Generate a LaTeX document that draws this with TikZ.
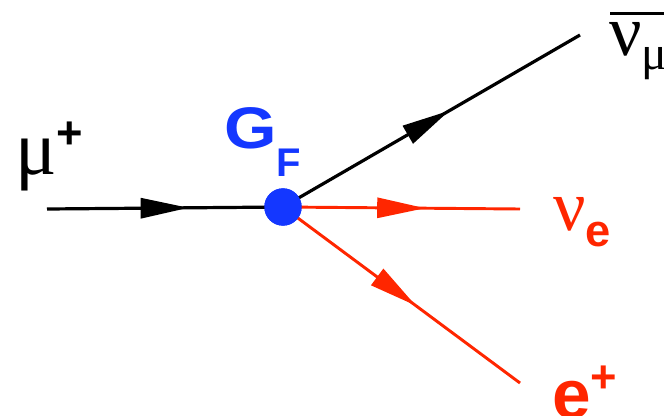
\documentclass[tikz,border=0pt]{standalone}
\usepackage{fontspec}
\setmainfont{Liberation Sans}
\newfontfamily\grk{Liberation Serif}
\usetikzlibrary{arrows.meta,decorations.markings}
\definecolor{fred}{RGB}{255,38,0}
\definecolor{fblue}{RGB}{20,55,255}
\tikzset{
  fermion/.style={line width=2.4pt, postaction={decorate},
    decoration={markings, mark=at position #1 with {\arrow{Triangle[length=36pt,width=15pt]}}}},
  redline/.style={fermion=#1, draw=fred, fill=fred, line width=2.2pt},
  blackline/.style={fermion=#1, draw=black, fill=black},
  vertexdot/.style={circle, fill=fblue, minimum size=28pt, inner sep=0pt},
  bigsym/.style={font=\grk\fontsize{54}{54}\selectfont, inner sep=0pt},
  boldlab/.style={font=\bfseries\fontsize{52}{52}\selectfont, inner sep=0pt},
}
\begin{document}
\begin{tikzpicture}[x=0.75pt, y=-0.75pt]
\useasboundingbox (0,0) rectangle (664,415);
\node[vertexdot] (v) at (283,207) {};
\coordinate (in) at (47,209);
\coordinate (numu) at (580,35);
\coordinate (nue) at (520,209);
\coordinate (pos) at (520,383);
\draw[blackline=0.6] (in) -- (v.center);
\draw[blackline=0.56] (v.center) -- (numu);
\draw[redline=0.6] (v.center) -- (nue);
\draw[redline=0.56] (v.center) -- (pos);
\node[vertexdot] at (v) {};
% labels
\node[bigsym, font=\grk\fontsize{58}{58}\selectfont, anchor=base west] (mulab) at (15,174) {μ\raisebox{19pt}{\normalfont\bfseries\fontsize{34}{34}\selectfont +}};
\node[font=\bfseries\fontsize{44}{44}\selectfont, text=fblue, inner sep=0pt, anchor=base west] (gf) at (224,148) {\scalebox{1.15}[1]{G}\raisebox{-21pt}{\fontsize{30}{30}\selectfont F}};
\node[bigsym, text=fred, anchor=base west] (nuelab) at (553,230) {ν\raisebox{-12pt}{\normalfont\bfseries\fontsize{34}{34}\selectfont e}};
\node[boldlab, text=fred, anchor=base west] (poslab) at (552,418) {e\raisebox{19pt}{\fontsize{34}{34}\selectfont +}};
\node[bigsym, anchor=base west] (numulab) at (609,55) {ν\raisebox{-11pt}{\fontsize{36}{36}\selectfont μ}};
\draw[line width=2.2pt] (numulab.north west) ++(1,-8) -- ++(60,0);
\end{tikzpicture}
\end{document}
